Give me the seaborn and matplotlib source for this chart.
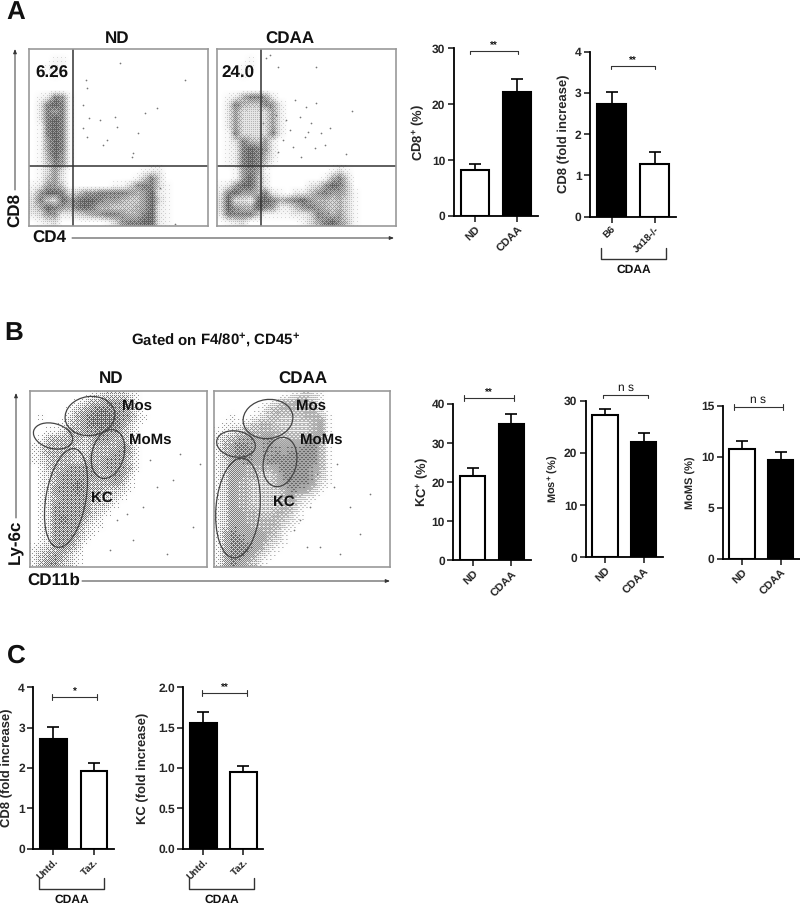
import numpy as np
import pandas as pd
import matplotlib
matplotlib.use("Agg")
import matplotlib.pyplot as plt
from matplotlib.patches import Ellipse
import seaborn as sns

sns.set_style("white")
plt.rcParams["font.family"] = ["Liberation Sans", "DejaVu Sans"]
plt.rcParams["font.weight"] = "bold"
plt.rcParams["axes.labelweight"] = "bold"
plt.rcParams["mathtext.fontset"] = "custom"
plt.rcParams["mathtext.bf"] = "Liberation Sans:bold"
plt.rcParams["mathtext.rm"] = "Liberation Sans:bold"
plt.rcParams["text.hinting"] = "no_hinting"
plt.rcParams["text.hinting_factor"] = 1

W, H = 800, 905

# bar values
nd_cdaa = ["ND", "CDAA"]
cd8_pct = [8.2, 22.2]
cd8_pct_top = [9.3, 24.5]
ja18_cats = ["B6", "J\u03b118-/-"]
ja18_fold = [2.72, 1.28]
ja18_fold_top = [3.02, 1.58]
kc_pct = [21.5, 34.9]
kc_pct_top = [23.7, 37.5]
mos_pct = [27.2, 22.1]
mos_pct_top = [28.5, 23.9]
moms_pct = [10.75, 9.7]
moms_pct_top = [11.5, 10.5]
taz_cats = ["Untd.", "Taz."]
taz_cd8 = [2.72, 1.92]
taz_cd8_top = [3.02, 2.12]
taz_kc = [1.56, 0.95]
taz_kc_top = [1.70, 1.03]

# flow plots: darkness (0-9) on a 24x24 grid
cd4_nd = ["000000000000000000000000", "000110000000000000000000", "001110000000000000000000",
          "000100000000000000000000", "000000000000000000000000", "000000000000000000000000",
          "012761000000000000000000", "027871000000000000000000", "027671000000000000000000",
          "027871000000000000000000", "017871000000000000000000", "017871000000000000000000",
          "016871000000000000000000", "016871000000000000000000", "015861000000000000000000",
          "014761000000000000000000", "013630000000000122000000", "014620000000001473000000",
          "126640000001136773100000", "268873466777765682100000", "374386788766544683100000",
          "358765787554445682100000", "236622345677655782100000", "012300000013677882100000"]
cd4_cdaa = ["000000000000000000000000", "000010000000000000000000", "000110000000000000000000",
            "000100000000000000000000", "000000000000000000000000", "000000000000000000000000",
            "012577620000000000000000", "027544762000000000000000", "026333362000000000000000",
            "026333362000000000000000", "026333362000000000000000", "017333372000000000000000",
            "013754620000000000000000", "012787620000000000000000", "012787520000000000000000",
            "012787410000000000000000", "001676100000000131000000", "001685200000001573000000",
            "126885200000236874000000", "278665721022467664100000", "383328875678655453100000",
            "386558762246765453100000", "277774111122376563100000", "012300000001357864100000"]
ly6c_nd = ["000000001233321000000000", "000000124455531000000000", "000001345665541000000000",
           "010002456666552100000000", "000013456666531000000000", "001124455655421000000000",
           "013444434554421000000000", "124444334444541000000000", "124444334445541000000000",
           "123444344455531000000000", "013445555455541000000000", "012455555445520000000000",
           "012455654445410000000000", "012555654433210000000000", "012455554332100000000000",
           "012555553321000000000000", "012555553210000000000000", "012565542100000000000000",
           "012555521100000000000000", "012555421000000000000000", "012555310000000000000000",
           "123454200000000000000000", "134542100000000000000000", "135532100000000000000000"]
ly6c_cdaa = ["000000000012321000000000", "000000012445431000000000", "000000134444441000000000",
             "001001234333444100000000", "011123443333345100000000", "112344444333345100000000",
             "134555564444554100000000", "145665565555664100000000", "145665556566664100000000",
             "135565566666664100000000", "135544445666654100000000", "135544334666653100000000",
             "135443334566652100000000", "135443333465531000000000", "135443333453210000000000",
             "135443333442100000000000", "135544334431000000000000", "135544444321000000000000",
             "135554444210000000000000", "146555543100000000000000", "146655532100000000000000",
             "146665421000000000000000", "146654210000000000000000", "146543100000000000000000"]

# single stray events, x and y inside the plot frame
cd4_nd_x = [57, 156, 91, 54, 60, 71, 58, 86, 116, 128, 78, 74, 109, 104, 88, 54, 131, 121, 146, 58, 103]
cd4_nd_y = [31, 31, 14, 56, 69, 71, 39, 68, 64, 59, 91, 96, 84, 104, 78, 79, 139, 151, 175, 88, 108]
cd4_cdaa_x = [135, 129, 113, 78, 89, 99, 53, 59, 69, 83, 94, 104, 56, 66, 76, 88, 98, 108, 49, 84, 61, 73, 91, 99, 61, 53, 49, 111, 119, 46]
cd4_cdaa_y = [62, 105, 79, 51, 58, 54, 58, 66, 71, 68, 74, 84, 83, 91, 98, 88, 99, 96, 101, 108, 103, 81, 83, 18, 18, 6, 9, 164, 174, 74]
ly6c_nd_x = [150, 127, 113, 97, 87, 143, 163, 170, 120, 103, 80, 137]
ly6c_nd_y = [63, 96, 116, 123, 129, 89, 136, 73, 69, 149, 159, 163]
ly6c_cdaa_x = [123, 120, 96, 86, 146, 106, 136, 93, 80, 156, 126, 103]
ly6c_cdaa_y = [73, 96, 116, 129, 143, 156, 116, 156, 139, 103, 163, 83]

fig = plt.figure(figsize=(W / 100, H / 100), dpi=100, facecolor="white")

# ordered dither matrix, gives the read darkness a dotted look
BAYER = np.array([[0, 8, 2, 10], [12, 4, 14, 6], [3, 11, 1, 9], [15, 7, 13, 5]]) / 16 + 1 / 32


def box(left, top, right, bottom):
    return [left / W, 1 - bottom / H, (right - left) / W, (bottom - top) / H]


def stipple(grid, w, h, grain, depth):
    img = np.array([[int(c) for c in row] for row in grid]) / 9
    xi = (np.arange(w) + 0.5) / w * img.shape[1] - 0.5
    yi = (np.arange(h) + 0.5) / h * img.shape[0] - 0.5
    cols = np.array([np.interp(xi, np.arange(img.shape[1]), r) for r in img])
    fine = np.array([np.interp(yi, np.arange(img.shape[0]), c) for c in cols.T]).T * depth
    tile = np.tile(BAYER, (h // 4 + 1, w // 4 + 1))[:h, :w]
    dots = (fine > tile).astype(float) * 0.7
    return (1 - grain) * fine + grain * dots


def flow_panel(left, top, right, bottom, grid, xs, ys, grain, depth, gate=None, ellipses=()):
    ax = fig.add_axes(box(left, top, right, bottom))
    w, h = int(right - left), int(bottom - top)
    ax.imshow(stipple(grid, w, h, grain, depth), cmap="Greys", vmin=0, vmax=1, interpolation="bilinear",
              extent=(0, w, h, 0), aspect="auto")
    sns.scatterplot(x=xs, y=ys, s=1.5, color="#777777", linewidth=0, ax=ax)
    if gate:
        ax.axvline(gate[0], color="#333333", lw=1.1)
        ax.axhline(gate[1], color="#333333", lw=1.1)
    for cx, cy, ew, eh, ang in ellipses:
        ax.add_patch(Ellipse((cx, cy), ew, eh, angle=ang, fill=False, ec="#444444", lw=0.9))
    ax.set_xlim(0, w)
    ax.set_ylim(h, 0)
    ax.set_xticks([])
    ax.set_yticks([])
    for s in ax.spines.values():
        s.set_color("#999999")
        s.set_linewidth(1.2)
    return ax


def bar_panel(left, right, top, bottom, cats, vals, tops, colors, ymax, ticks,
              ylabel, label_x, label_size=9, ticklabels=None, xsize=8):
    ax = fig.add_axes(box(left, top, right, bottom))
    df = pd.DataFrame({"group": cats, "value": vals})
    sns.barplot(data=df, x="group", y="value", hue="group", palette=colors, width=0.66,
                edgecolor="black", linewidth=1.5, legend=False, ax=ax)
    errs = [t - v for t, v in zip(tops, vals)]
    ax.errorbar(range(len(cats)), vals, yerr=[[0] * len(cats), errs], fmt="none",
                ecolor="black", elinewidth=1.2, capsize=4.5, capthick=1.2)
    ax.set_xlim(-0.5, 1.5)
    ax.set_ylim(0, ymax)
    ax.set_yticks(ticks)
    if ticklabels:
        ax.set_yticklabels(ticklabels)
    ax.set_xlabel("")
    ax.set_ylabel(ylabel, fontsize=label_size, fontweight="bold", va="center")
    ax.yaxis.set_label_coords((label_x - left) / (right - left), 0.5)
    ax.tick_params(axis="both", direction="out", length=4, width=1.2, bottom=True, left=True,
                   labelsize=8.5, pad=2)
    ax.tick_params(axis="x", labelsize=xsize)
    plt.setp(ax.get_xticklabels(), rotation=45, ha="right", rotation_mode="anchor", fontweight="bold")
    plt.setp(ax.get_yticklabels(), fontweight="bold")
    sns.despine(ax=ax)
    for s in ("left", "bottom"):
        ax.spines[s].set_linewidth(1.3)
        ax.spines[s].set_color("black")
    return ax


flow_panel(29, 49, 208, 226, cd4_nd, cd4_nd_x, cd4_nd_y, 0.3, 0.8, gate=(44, 117))
flow_panel(217, 49, 396, 226, cd4_cdaa, cd4_cdaa_x, cd4_cdaa_y, 0.3, 0.8, gate=(44, 117))
flow_panel(30, 391, 207, 567, ly6c_nd, ly6c_nd_x, ly6c_nd_y, 0.7, 1.0,
           ellipses=[(60, 25, 50, 39, -8), (23, 45, 40, 25, 15), (78, 63, 32, 50, 15), (36, 107, 40, 100, 10)])
flow_panel(214, 391, 390, 567, ly6c_cdaa, ly6c_cdaa_x, ly6c_cdaa_y, 0.7, 0.95,
           ellipses=[(54, 28, 50, 39, -8), (22, 53, 39, 26, 10), (66, 71, 33, 50, 12), (24, 117, 44, 100, 5)])

W_ = "white"
K_ = "black"
bar_panel(453.5, 538, 48.3, 216, nd_cdaa, cd8_pct, cd8_pct_top, [W_, K_], 30, [0, 10, 20, 30],
          r"CD8$^{+}$ (%)", 418)
bar_panel(590, 676, 51.7, 216.7, ja18_cats, ja18_fold, ja18_fold_top, [K_, W_], 4, [0, 1, 2, 3, 4],
          "CD8 (fold increase)", 564, xsize=7)
bar_panel(453.3, 530.7, 404, 560.3, nd_cdaa, kc_pct, kc_pct_top, [W_, K_], 40, [0, 10, 20, 30, 40],
          r"KC$^{+}$ (%)", 422)
bar_panel(585.7, 663, 400.7, 557.3, nd_cdaa, mos_pct, mos_pct_top, [W_, K_], 30, [0, 10, 20, 30],
          r"Mos$^{+}$ (%)", 553, label_size=8)
bar_panel(722.7, 800, 405.7, 559, nd_cdaa, moms_pct, moms_pct_top, [W_, K_], 15, [0, 5, 10, 15],
          "MoMS (%)", 691, label_size=8)
bar_panel(33.3, 114, 687.3, 848.7, taz_cats, taz_cd8, taz_cd8_top, [K_, W_], 4, [0, 1, 2, 3, 4],
          "CD8 (fold increase)", 7, xsize=7)
bar_panel(183.3, 263.3, 687.3, 848.7, taz_cats, taz_kc, taz_kc_top, [K_, W_], 2, [0, 0.5, 1, 1.5, 2],
          "KC (fold increase)", 143, ticklabels=["0.0", "0.5", "1.0", "1.5", "2.0"], xsize=7)

# overlay in picture pixels for labels, arrows and brackets
ov = fig.add_axes([0, 0, 1, 1], zorder=10)
ov.set_xlim(0, W)
ov.set_ylim(H, 0)
ov.axis("off")
ov.patch.set_alpha(0)


def txt(x, y, s, size=10, **kw):
    ov.text(x, y, s, fontsize=size, fontweight=kw.pop("weight", "bold"), ha=kw.pop("ha", "center"),
            va="center", color="#111111", **kw)


def arrow(x0, y0, x1, y1):
    ov.annotate("", xy=(x1, y1), xytext=(x0, y0),
                arrowprops=dict(arrowstyle="-|>,head_length=0.25,head_width=0.1", color="#333333", lw=0.7,
                                shrinkA=0, shrinkB=0))


for x, y, s in [(16, 12, "A"), (14, 333, "B"), (16, 656, "C")]:
    txt(x, y, s, size=19)
for x, y, s in [(117, 39, "ND"), (290, 39, "CDAA"), (111, 379, "ND"), (303, 379, "CDAA")]:
    txt(x, y, s, size=12)
for x, y, s in [(52, 73, "6.26"), (238, 73, "24.0")]:
    txt(x, y, s, size=12.5)
txt(16, 210, "CD8", size=12.5, rotation=90)
txt(49, 238, "CD4", size=12.5)
txt(16, 542, "Ly-6c", size=12.5, rotation=90)
txt(54, 580, "CD11b", size=12.5)
arrow(15, 190, 15, 49)
arrow(72, 238, 394, 238)
arrow(16, 518, 16, 393)
arrow(82, 581, 390, 581)
txt(216, 340, r"Gated on F4/80$^{+}$, CD45$^{+}$", size=11)
for x, y, s in [(137, 406, "Mos"), (150, 440, "MoMs"), (102, 498, "KC"),
                (311, 406, "Mos"), (321, 440, "MoMs"), (284, 502, "KC")]:
    txt(x, y, s, size=10.5)

# significance brackets: x0, x1, y, both-way caps, text
brackets = [(470, 518, 51, False, "**"), (611, 655, 66, False, "**"), (464, 514, 397.7, True, "**"),
            (603, 648, 395, False, "n s"), (734, 783, 406.7, True, "n s"), (52, 97, 697, True, "*"),
            (202, 247, 693, True, "**")]
for x0, x1, y, both, s in brackets:
    lo = y - 3 if both else y
    for x in (x0, x1):
        ov.plot([x, x], [lo, y + 3], color="#333333", lw=0.8)
    ov.plot([x0, x1], [y, y], color="#333333", lw=0.8)
    if s == "n s":
        txt((x0 + x1) / 2, y - 7, s, size=8.5, weight="normal")
    else:
        txt((x0 + x1) / 2, y - 5, s, size=7.5)

for x0, x1, y0, y1 in [(601, 665.7, 248, 259), (39, 104, 877.7, 889), (189, 254, 877.7, 889)]:
    ov.plot([x0, x0, x1, x1], [y0, y1, y1, y0], color="#333333", lw=1)
    txt((x0 + x1) / 2, y1 + 11, "CDAA", size=8.5)

fig.savefig("out.png", dpi=100, facecolor="white")
